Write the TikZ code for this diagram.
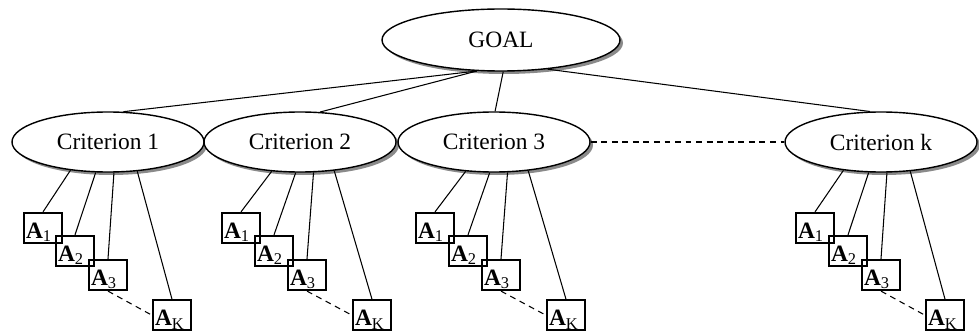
\documentclass[tikz,border=0pt]{standalone}
\usepackage{fontspec}
\setmainfont{Liberation Serif}
\usetikzlibrary{shapes,shadows}

\begin{document}
\begin{tikzpicture}[node distance = 3cm, auto, semithick]
  \tikzstyle{crit} = [ellipse, draw, fill=white, line width=1.2pt,
    minimum width=5.76cm, minimum height=1.8cm, inner sep=0pt,
    font=\fontsize{20}{24}\selectfont,
    drop shadow={shadow xshift=0.09cm, shadow yshift=-0.09cm,
      fill=black!65, opacity=0.7}]
  \tikzstyle{alt} = [rectangle, draw, line width=1.9pt, text width=1.02cm,
    align=left, inner xsep=1.5pt, inner ysep=0pt, text height=0.76cm,
    text depth=0.14cm, font=\fontsize{20}{24}\selectfont]
  \tikzstyle{line} = [draw, line width=0.9pt]
  \tikzstyle{dots} = [draw, line width=0.9pt, dash pattern=on 5pt off 4pt]

  \useasboundingbox (0,0) rectangle (29.37,-10.05);

  % Place nodes
  \node [crit, minimum width=7.14cm, minimum height=1.86cm] (goal) at (15.03,-1.2) {GOAL};
  \node [crit, below of=goal, node distance=3.06cm, xshift=-11.79cm] (crit1) {Criterion 1};
  \node [crit, right of=crit1, node distance=5.76cm] (crit2) {Criterion 2};
  \node [crit, right of=crit2, node distance=5.82cm] (crit3) {Criterion 3};
  \node [crit, right of=crit3, node distance=11.61cm] (critk) {Criterion k};

  \node [alt, below of=crit1, node distance=2.58cm, xshift=-1.95cm] (alt11) {\textbf{A}\textsubscript{1}};
  \node [alt, below of=crit1, node distance=3.27cm, xshift=-0.99cm] (alt12) {\textbf{A}\textsubscript{2}};
  \node [alt, below of=crit1, node distance=3.99cm] (alt13) {\textbf{A}\textsubscript{3}};
  \node [alt, below of=crit1, node distance=5.2cm, xshift=1.92cm] (alt1k) {\textbf{A}\textsubscript{K}};

  \node [alt, below of=crit2, node distance=2.58cm, xshift=-1.77cm] (alt21) {\textbf{A}\textsubscript{1}};
  \node [alt, below of=crit2, node distance=3.27cm, xshift=-0.78cm] (alt22) {\textbf{A}\textsubscript{2}};
  \node [alt, below of=crit2, node distance=3.99cm, xshift=0.21cm] (alt23) {\textbf{A}\textsubscript{3}};
  \node [alt, below of=crit2, node distance=5.2cm, xshift=2.16cm] (alt2k) {\textbf{A}\textsubscript{K}};

  \node [alt, below of=crit3, node distance=2.58cm, xshift=-1.77cm] (alt31) {\textbf{A}\textsubscript{1}};
  \node [alt, below of=crit3, node distance=3.27cm, xshift=-0.78cm] (alt32) {\textbf{A}\textsubscript{2}};
  \node [alt, below of=crit3, node distance=3.99cm, xshift=0.21cm] (alt33) {\textbf{A}\textsubscript{3}};
  \node [alt, below of=crit3, node distance=5.2cm, xshift=2.16cm] (alt3k) {\textbf{A}\textsubscript{K}};

  \node [alt, below of=critk, node distance=2.58cm, xshift=-1.98cm] (altk1) {\textbf{A}\textsubscript{1}};
  \node [alt, below of=critk, node distance=3.27cm, xshift=-0.99cm] (altk2) {\textbf{A}\textsubscript{2}};
  \node [alt, below of=critk, node distance=3.99cm] (altk3) {\textbf{A}\textsubscript{3}};
  \node [alt, below of=critk, node distance=5.2cm, xshift=1.92cm] (altkk) {\textbf{A}\textsubscript{K}};

  % Draw edges
  \path [line] (goal.232) -- (crit1.63);
  \path [line] (goal.232) -- (crit2.56);
  \path [line] (goal.274) -- (crit3.88);
  \path [line] (goal.328) -- (critk.110);
  \path [dots] (crit3) -- (critk);

  \path [line] (crit1.217) -- (alt11.north);
  \path [line] (crit1.248) -- (alt12.north);
  \path [line] (crit1.281) -- (alt13.north);
  \path [line] (crit1.315) -- (alt1k.north);
  \path [dots] (alt13.south) -- (alt1k.west);

  \path [line] (crit2.226) -- (alt21.north);
  \path [line] (crit2.262) -- (alt22.north);
  \path [line] (crit2.294) -- (alt23.north);
  \path [line] (crit2.320) -- (alt2k.north);
  \path [dots] (alt23.south) -- (alt2k.west);

  \path [line] (crit3.226) -- (alt31.north);
  \path [line] (crit3.262) -- (alt32.north);
  \path [line] (crit3.294) -- (alt33.north);
  \path [line] (crit3.320) -- (alt3k.north);
  \path [dots] (alt33.south) -- (alt3k.west);

  \path [line] (critk.217) -- (altk1.north);
  \path [line] (critk.248) -- (altk2.north);
  \path [line] (critk.281) -- (altk3.north);
  \path [line] (critk.315) -- (altkk.north);
  \path [dots] (altk3.south) -- (altkk.west);

\end{tikzpicture}
\end{document}
